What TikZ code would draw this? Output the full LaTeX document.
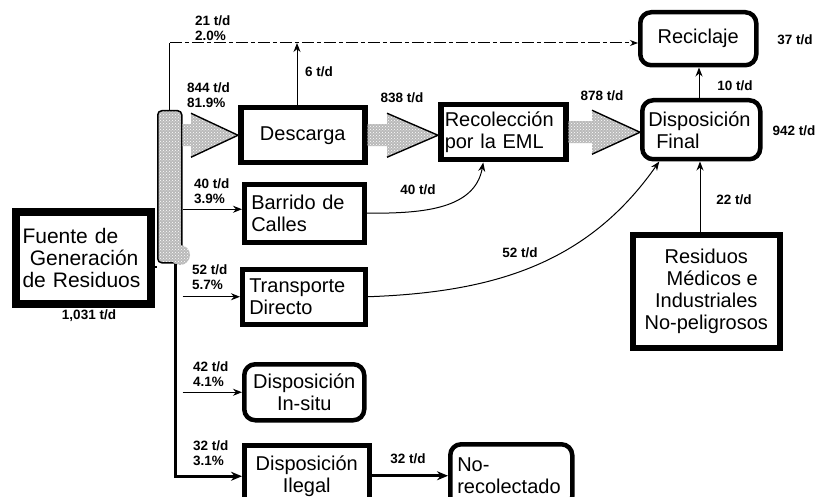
\documentclass[tikz,border=0pt]{standalone}
\usepackage{fontspec}
\setmainfont{Liberation Sans}
\usetikzlibrary{arrows.meta,patterns,calc}
\newcommand\boxfont{\fontsize{20}{22}\selectfont}
\newcommand\labfont{\fontsize{13.5}{15}\selectfont\bfseries}
\newcommand\stiparrow[3]{%
  \fill[stipple] ($(#1)+(0,-11)$) -- ($(#2)+(-#3,-11)$) -- ($(#2)+(-#3,-22)$) -- (#2) -- ($(#2)+(-#3,22)$) -- ($(#2)+(-#3,11)$) -- ($(#1)+(0,11)$) -- cycle;
  \draw[line width=1.4pt,line join=round] ($(#2)+(-#3,-22)$) -- (#2) -- ($(#2)+(-#3,22)$);
}
\begin{document}
\begin{tikzpicture}[x=1pt,y=-1pt,
  box/.style={draw, line width=4.5pt, inner sep=0pt, anchor=north west, font=\boxfont},
  rbox/.style={box, rounded corners=11pt},
  lab/.style={font=\labfont, align=left, inner sep=0pt, anchor=west},
  flow/.style={-{Stealth[length=9pt,width=7pt]}, line width=1pt},
  heavy/.style={-{Stealth[length=11pt,width=9pt]}, line width=3pt},
  stipple/.style={preaction={fill=gray!55}, pattern=crosshatch dots, pattern color=white}]
\useasboundingbox[fill=white] (0,0) rectangle (821,497);

% boxes
\node[box, line width=8pt, minimum width=135, minimum height=92, text width=122, align=left, font=\fontsize{21}{22}\selectfont] (fuente) at (12,208) {Fuente de\\\hspace*{0.35em}Generación\\de Residuos};
\node[box, line width=5.5pt, minimum width=124, minimum height=55, align=center] (desc) at (238,105) {Descarga};
\node[box, minimum width=120, minimum height=58, text width=106, align=left] (barrido) at (242,182) {Barrido de\\Calles};
\node[box, minimum width=123, minimum height=55, text width=109, align=left] (transp) at (240,267) {Transporte\\Directo};
\node[rbox, minimum width=120, minimum height=56, align=center] (insitu) at (242,362) {Disposición\\In-situ};
\node[box, minimum width=125, minimum height=62, align=center] (ilegal) at (242,443) {Disposición\\Ilegal};
\node[rbox, minimum width=122, minimum height=63, text width=108, align=left] (norecol) at (448,442) {No-\\recolectado};
\node[box, line width=5.5pt, minimum width=125, minimum height=55, text width=117, align=left] (recol) at (438,102) {Recolección\\por la EML};
\node[rbox, minimum width=118, minimum height=59, text width=106, align=left] (final) at (640,98) {Disposición\\\hspace*{0.4em}Final};
\node[rbox, minimum width=116, minimum height=53, align=center] (recic) at (638,10) {Reciclaje};
\node[box, line width=5.5pt, minimum width=147, minimum height=113, align=center] (resid) at (630,232) {Residuos\\\hspace*{0.6em}Médicos e\\Industriales\\No-peligrosos};

% distribution bar
\node[draw=black, line width=1.5pt, stipple, rounded corners=4pt, minimum width=24, minimum height=152, inner sep=0pt, anchor=north west] (bar) at (157,110) {};
\fill[stipple] (180,255) circle (10);

% stippled flow arrows
\stiparrow{bar.east |- desc.west}{desc.west}{47}
\stiparrow{desc.east}{recol.west |- desc.east}{51}
\stiparrow{recol.east}{final.west |- recol.east}{48}

% connectors
\coordinate (tl) at ($(bar.north)+(0,-67)$);
\draw[line width=1pt] (bar.north) -- (tl);
\draw[line width=1pt, dash pattern=on 12pt off 3pt on 4pt off 3pt, -{Stealth[length=8pt,width=6pt]}] (tl) -- (tl -| recic.west);
\draw[flow] (desc.north -| 297,0) -- (tl -| 297,0);
\draw[flow] (final.north -| 699,0) -- (recic.south -| 699,0);
\draw[flow] (resid.north -| 700,0) -- (final.south -| 700,0);
\draw[flow] ([yshift=4pt]bar.east |- barrido.west) -- ([yshift=4pt]barrido.west);
\draw[flow] (bar.east |- transp.west) -- (transp.west);
\draw[flow] (bar.east |- insitu.west) -- (insitu.west);
\draw[line width=1.2pt] ([yshift=-9pt]fuente.east) -- ([yshift=-9pt]bar.west |- fuente.east);
\draw[heavy] ([xshift=6pt]bar.south) |- (ilegal.west);
\draw[heavy] (ilegal.east |- norecol.west) -- (norecol.west);
\draw[flow] (barrido.east) to[out=0, in=-100] ([xshift=-20pt]recol.south);
\draw[flow] (transp.east) to[out=2, in=-125] ([xshift=-42pt]final.south);

% labels
\node[lab] (l21) at (195,28) {21 t/d\\2.0\%};
\node[lab] (l844) at (187,95) {844 t/d\\81.9\%};
\node[lab] (l6) at (305,72) {6 t/d};
\node[lab, anchor=center] (l838) at (402,98) {838 t/d};
\node[lab, anchor=center] (l878) at (602,96) {878 t/d};
\node[lab, anchor=center] (l10) at (735,86) {10 t/d};
\node[lab, anchor=center] (l37) at (795,40) {37 t/d};
\node[lab, anchor=center] (l942) at (794,131) {942 t/d};
\node[lab, anchor=center] (l22) at (734,200) {22 t/d};
\node[lab, anchor=center] (l40b) at (418,190) {40 t/d};
\node[lab] (l40) at (194,191) {40 t/d\\3.9\%};
\node[lab] (l52) at (192,277) {52 t/d\\5.7\%};
\node[lab, anchor=center] (l52b) at (520,253) {52 t/d};
\node[lab] (l42) at (193,374) {42 t/d\\4.1\%};
\node[lab] (l32) at (193,453) {32 t/d\\3.1\%};
\node[lab, anchor=center] (l32b) at (408,459) {32 t/d};
\node[lab, anchor=center] (l1031) at (89,316) {1,031 t/d};
\end{tikzpicture}
\end{document}
